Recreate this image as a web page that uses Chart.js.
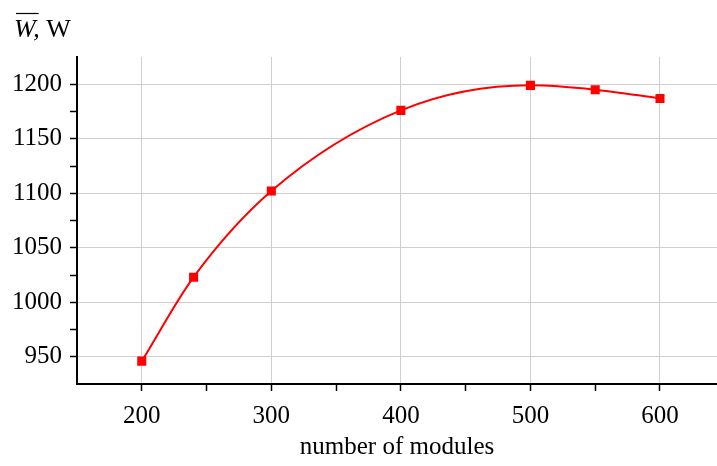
<!DOCTYPE html>
<html><head><meta charset="utf-8">
<script src="https://cdn.jsdelivr.net/npm/chart.js@4"></script>
<style>html,body{margin:0;padding:0;background:#fff}#wrap{width:717px;height:466px;position:relative}</style>
</head><body><div id="wrap"><canvas id="c" width="717" height="466"></canvas></div>
<script>
const modules = [200, 240, 300, 400, 500, 550, 600];
const power = [946, 1023, 1102, 1176, 1199, 1195, 1187];
const xTicks = [150, 200, 250, 300, 350, 400, 450, 500, 550, 600];
const xLabels = [200, 300, 400, 500, 600];
const yTicks = [925, 950, 975, 1000, 1025, 1050, 1075, 1100, 1125, 1150, 1175, 1200, 1225];
const yLabels = [950, 1000, 1050, 1100, 1150, 1200];
const xTitle = 'number of modules';

const FONT = '"Liberation Serif", "Times New Roman", serif';

const titlePlugin = {
  id: 'ytitle',
  afterDraw(chart) {
    const ctx = chart.ctx;
    ctx.save();
    ctx.fillStyle = '#000';
    ctx.textBaseline = 'alphabetic';
    ctx.font = 'italic 26px ' + FONT;
    const x0 = 14, y0 = 37;
    ctx.fillText('W,', x0, y0);
    const wW = ctx.measureText('W').width;
    const wComma = ctx.measureText('W,').width;
    ctx.font = '26px ' + FONT;
    ctx.fillText(' W', x0 + wComma, y0);
    ctx.strokeStyle = '#000';
    ctx.lineWidth = 1.2;
    ctx.beginPath();
    ctx.moveTo(x0 + 2, 13.5);
    ctx.lineTo(x0 + wW + 3, 13.5);
    ctx.stroke();
    ctx.restore();
  }
};

new Chart(document.getElementById('c'), {
  type: 'line',
  data: {
    datasets: [{
      data: modules.map((m, i) => ({x: m, y: power[i]})),
      borderColor: '#f00',
      backgroundColor: '#f00',
      borderWidth: 2,
      pointStyle: 'rect',
      pointRadius: 5,
      pointHoverRadius: 5,
      cubicInterpolationMode: 'monotone',
      fill: false
    }]
  },
  options: {
    responsive: false,
    animation: false,
    devicePixelRatio: 1,
    layout: {autoPadding: false, padding: {top: 57, left: 0, right: 0, bottom: 0}},
    plugins: {legend: {display: false}, tooltip: {enabled: false}},
    scales: {
      x: {
        type: 'linear', min: 150, max: 644,
        afterBuildTicks(s) { s.ticks = xTicks.map(v => ({value: v})); },
        afterFit(s) { s.height = 82; s.paddingLeft = 0; s.paddingRight = 0; },
        border: {color: '#000', width: 2},
        grid: {
          color: ctx => (ctx.tick && xLabels.includes(ctx.tick.value)) ? '#cfcfcf' : 'rgba(0,0,0,0)',
          tickColor: ctx => (ctx.tick && ctx.tick.value === 150) ? 'rgba(0,0,0,0)' : '#000',
          tickLength: 7, lineWidth: 1, tickWidth: 1.5
        },
        ticks: {
          autoSkip: false, maxRotation: 0, padding: 10,
          color: '#000', font: {family: FONT, size: 25},
          callback: v => xLabels.includes(v) ? String(v) : ''
        },
        title: {display: true, text: xTitle, color: '#000', font: {family: FONT, size: 25}, padding: {top: 12}}
      },
      y: {
        type: 'linear', min: 925, max: 1225,
        afterBuildTicks(s) { s.ticks = yTicks.map(v => ({value: v})); },
        afterFit(s) { s.width = 77; s.paddingTop = 0; s.paddingBottom = 0; },
        border: {color: '#000', width: 2},
        grid: {
          color: ctx => (ctx.tick && yLabels.includes(ctx.tick.value)) ? '#cfcfcf' : 'rgba(0,0,0,0)',
          tickColor: ctx => (ctx.tick && (ctx.tick.value === 925 || ctx.tick.value === 1225)) ? 'rgba(0,0,0,0)' : '#000',
          tickLength: 7, lineWidth: 1, tickWidth: 1.5
        },
        ticks: {
          autoSkip: false, padding: 8,
          color: '#000', font: {family: FONT, size: 25},
          callback: v => yLabels.includes(v) ? String(v) : ''
        }
      }
    }
  },
  plugins: [titlePlugin]
});
</script></body></html>
